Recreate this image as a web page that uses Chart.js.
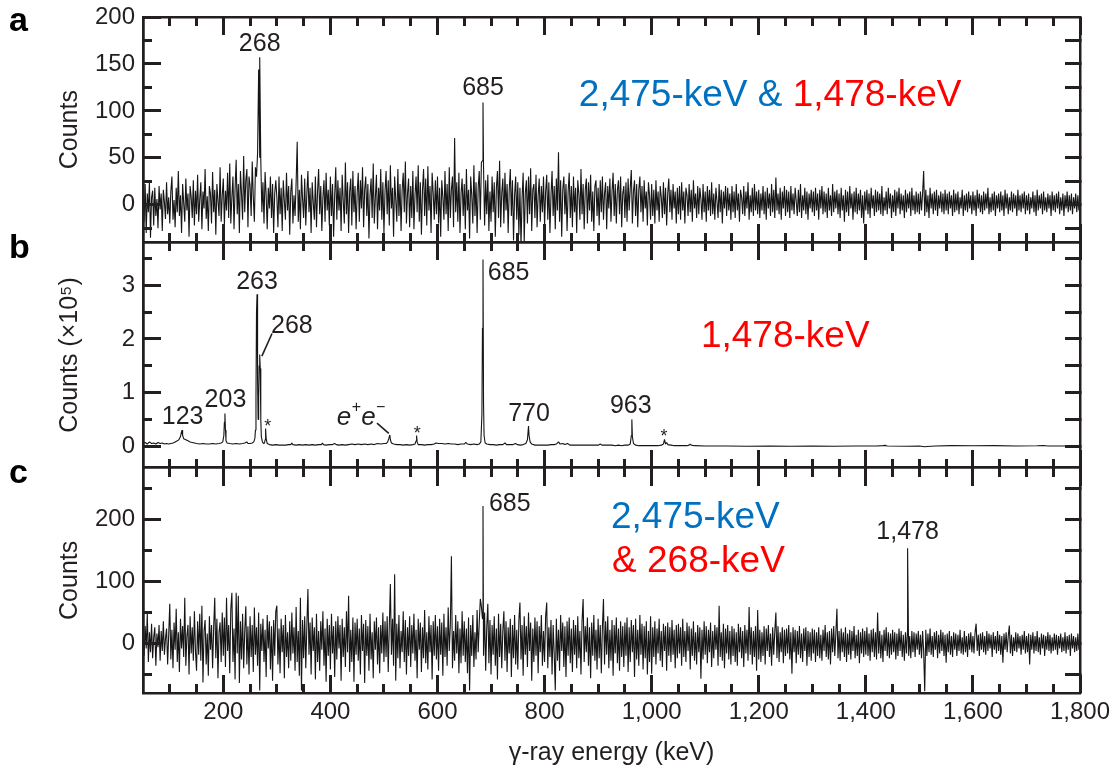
<!DOCTYPE html>
<html>
<head>
<meta charset="utf-8">
<title>γ-ray coincidence spectra</title>
<script src="https://cdn.jsdelivr.net/npm/chart.js"></script>
<style>
  html, body { margin: 0; padding: 0; background: #ffffff; }
  #figure { position: relative; width: 1111px; height: 770px; }
  #figure canvas { position: absolute; left: 0; top: 0; }
</style>
</head>
<body>
<div id="figure">
  <canvas id="panelA" width="1111" height="770"></canvas>
  <canvas id="panelB" width="1111" height="770"></canvas>
  <canvas id="panelC" width="1111" height="770"></canvas>
</div>
<script>
// ---------------------------------------------------------------
// Spectrum data
// ---------------------------------------------------------------

// Channel calibration of the gated spectra: 2 keV per channel from 50 keV
const energyStart = 50;
const binWidth = 2;
const energyMin = 50;
const energyMax = 1800;

// (a) gate on 2,475-keV & 1,478-keV: counts per channel
const countsA = [
  5,-18,22,-30,12,-8,25,-35,8,15,-22,18,-12,6,-25,20,-5,12,-28,16,3,-15,24,-10,8,
  -20,14,30,-16,5,-24,18,-8,36,-12,10,-30,22,2,-18,28,-6,12,-34,20,8,-14,26,-22,15,
  -10,32,-18,6,24,-26,14,-4,38,-15,9,-28,20,12,-20,35,-8,16,-32,22,4,-12,40,-18,10,
  28,-22,15,-6,34,-14,44,-20,8,30,-26,18,48,-10,22,-30,36,12,-16,52,-8,26,38,-24,30,
  20,-12,46,8,-18,40,30,55,144,50,48,-8,24,-20,35,10,-26,18,-4,30,-14,22,-30,12,26,
  8,-24,30,-10,18,-28,26,4,-16,34,-6,20,-32,14,28,-20,10,-12,24,67,-18,16,-26,32,6,
  -14,28,-22,12,36,-8,18,-30,24,2,-16,30,-24,14,38,-10,20,-28,8,26,-18,34,-6,16,-22,
  30,-12,22,-34,10,40,-16,26,-6,18,-28,32,4,-20,45,-10,24,-30,14,28,-22,36,-8,20,-26,
  12,34,-18,26,-4,40,-24,16,30,-12,22,-36,10,28,-14,44,-20,8,32,-26,18,-6,38,-16,24,
  -30,14,36,-10,26,-22,42,-4,18,-34,30,6,-18,38,-12,22,-28,16,34,-8,46,-20,12,28,-24,
  20,-14,36,-26,10,30,-8,42,-18,24,-32,16,38,-12,28,-22,41,-6,20,-30,34,12,-16,26,-10,
  30,-20,18,-34,26,8,-16,36,-10,22,-28,40,-14,16,30,-24,71,-8,24,-18,34,-30,12,28,-12,
  22,-26,38,-6,16,-36,30,10,-20,42,-12,24,-30,18,36,-16,45,47,40,-22,26,-10,32,-28,14,
  -18,30,-8,24,-34,18,36,-14,47,-24,12,28,-20,34,-6,22,-30,16,38,-12,26,-38,10,30,-16,
  24,-32,18,-44,8,34,-40,12,26,-20,30,-10,39,-28,16,22,-14,32,-24,10,28,-18,20,-8,30,
  -22,14,32,-16,24,-30,10,36,-12,20,-26,28,-6,56,-18,26,-34,16,30,-10,22,-28,14,34,-14,
  20,-24,30,-8,18,-30,26,12,-16,38,-10,22,-26,16,28,-20,24,-6,32,-18,14,-28,20,26,-12,
  18,-22,26,-8,30,-16,12,24,-26,20,-4,28,-18,14,34,-12,22,-20,16,26,-10,30,-24,12,20,
  -14,24,-18,28,-6,18,37,-20,14,26,-12,22,-24,16,30,-8,20,-18,26,-4,14,-22,24,10,-16,
  22,-12,16,-20,26,-6,14,-18,20,8,-14,24,-10,18,-22,12,28,-8,16,-16,22,-4,14,-20,18,
  -10,20,-16,24,-6,14,-20,18,10,-12,22,-8,16,-18,26,-4,12,-14,20,-10,18,6,-16,22,-8,
  14,-18,20,-6,16,-12,24,-10,12,-16,18,4,-14,22,-8,16,-20,14,-4,20,-12,18,-6,12,-16,
  20,-8,14,-14,22,-6,12,-18,16,8,-10,20,-12,14,-4,24,-16,10,-8,18,-12,22,-6,14,-10,
  16,-14,12,-6,20,-10,14,-16,18,-4,12,-12,22,-8,16,-14,29,-6,12,-10,18,-16,14,-4,20,
  -12,16,-8,14,-14,20,-6,12,-10,18,4,-12,16,-8,22,-14,10,-6,18,-10,14,-16,12,-4,16,
  -8,14,-12,18,-6,12,-16,16,-4,20,-10,14,-8,12,-14,18,-6,10,-12,22,-8,14,-4,16,-10,
  12,-14,18,-6,10,-18,16,-8,14,-12,20,-4,12,-16,14,-8,18,-10,12,-6,16,-14,10,-20,14,
  -6,16,-10,12,-14,18,-4,10,-12,16,-8,14,-6,12,-10,20,-12,8,-6,14,-10,18,-4,12,-14,
  10,-8,16,-12,14,-4,18,-10,12,-6,10,-14,16,-8,12,-4,14,-12,18,-6,10,-10,14,-8,12,
  -10,14,-6,12,36,-12,16,-8,10,-14,18,-4,12,-10,14,-6,16,-12,10,-4,14,-8,12,-10,16,
  -6,12,-10,14,-4,10,-12,16,-8,12,-6,14,-10,8,-4,16,-12,10,-6,12,-8,14,-4,10,-10,
  14,-6,10,-12,16,-4,12,-8,10,-10,14,-6,12,-4,18,-10,8,-8,12,-6,14,-12,10,-4,12,
  -8,14,-6,10,-12,16,-4,12,-10,8,-6,14,-8,12,-4,10,-12,16,-6,10,-8,12,-4,14,-10,
  10,-6,12,-10,8,-4,14,-8,10,-12,16,-6,10,-4,12,-10,14,-6,8,-8,12,-4,10,-12,14,
  -6,10,-8,12,-4,14,-10,8,-6,12,-12,10,-4,14,-8,10,-6,12,-10,8,-4,12,-8,10,-6,
  4
];
// (a) labelled γ lines
const peakEnergiesA = [268, 685];
const peakCountsA = [157, 109];

// (b) gate on 1,478-keV: counts (×10^5) at the listed energies (keV)
const energiesB = [
  50,54,58,62,66,70,74,78,82,86,
  90,94,98,102,106,110,114,117,120,122,
  123,124,126,130,134,138,142,146,150,156,
  162,168,174,180,186,192,196,199,201,202,
  203,204,205,207,212,218,224,230,236,240,
  244,246,250,254,257,259,260,261,262,263,
  264,265,266,267,268,269,270,271,273,275,
  277,278,279,280,282,286,292,298,304,310,
  316,322,326,328,330,336,342,348,354,360,
  366,372,378,383,385,387,392,398,404,408,
  411,416,422,428,434,440,446,452,458,464,
  470,476,482,488,494,500,504,507,509,511,
  512,514,518,524,530,536,542,548,554,558,
  560,561,562,564,570,576,582,588,594,597,
  602,608,614,620,626,632,638,644,650,653,
  656,662,668,674,678,681,683,684,685,686,
  687,689,692,698,704,710,716,722,726,729,
  735,741,746,749,755,760,765,768,770,771,
  773,776,782,788,794,800,806,812,818,822,
  826,829,834,838,843,847,853,860,866,872,
  878,884,890,896,901,904,907,914,920,926,
  932,938,944,950,956,960,962,963,964,966,
  970,976,982,988,994,1000,1006,1012,1018,1022,
  1024,1026,1028,1030,1036,1042,1048,1054,1060,1066,
  1070,1072,1074,1080,1100,1140,1180,1220,1260,1300,
  1340,1380,1420,1432,1436,1440,1480,1500,1510,1514,
  1530,1560,1600,1640,1680,1720,1732,1740,1770,1800
];
const countsB = [
  0.05,0.07,0.04,0.08,0.05,0.06,0.04,0.07,0.05,0.06,
  0.04,0.05,0.04,0.05,0.06,0.08,0.10,0.12,0.18,0.27,
  0.30,0.20,0.14,0.12,0.10,0.08,0.07,0.06,0.05,0.04,
  0.05,0.04,0.04,0.05,0.04,0.05,0.06,0.08,0.20,0.45,
  0.61,0.30,0.10,0.06,0.05,0.04,0.05,0.04,0.05,0.06,
  0.08,0.05,0.05,0.06,0.08,0.15,0.30,0.90,2.50,2.83,
  1.20,0.50,0.90,1.50,1.71,1.45,0.50,0.18,0.08,0.05,
  0.06,0.12,0.33,0.14,0.05,0.03,0.02,0.03,0.02,0.02,
  0.02,0.03,0.03,0.06,0.03,0.02,0.03,0.02,0.03,0.02,
  0.03,0.02,0.03,0.03,0.06,0.03,0.02,0.03,0.03,0.05,
  0.03,0.02,0.03,0.02,0.03,0.04,0.03,0.04,0.03,0.04,
  0.03,0.04,0.03,0.05,0.04,0.05,0.05,0.08,0.14,0.21,
  0.12,0.06,0.04,0.03,0.03,0.02,0.03,0.02,0.03,0.04,
  0.10,0.20,0.08,0.03,0.03,0.02,0.03,0.03,0.04,0.06,
  0.05,0.05,0.04,0.05,0.04,0.04,0.03,0.04,0.04,0.07,
  0.04,0.03,0.04,0.03,0.04,0.08,0.60,2.20,3.48,0.80,
  0.20,0.06,0.04,0.03,0.03,0.02,0.03,0.03,0.06,0.03,
  0.03,0.03,0.05,0.03,0.02,0.03,0.05,0.12,0.375,0.20,
  0.08,0.04,0.02,0.02,0.02,0.02,0.02,0.03,0.03,0.04,
  0.08,0.04,0.05,0.03,0.05,0.02,0.02,0.02,0.02,0.02,
  0.02,0.02,0.02,0.02,0.02,0.04,0.02,0.02,0.02,0.02,
  0.01,0.02,0.01,0.02,0.02,0.04,0.20,0.50,0.18,0.05,
  0.02,0.01,0.01,0.01,0.01,0.01,0.01,0.01,0.02,0.04,
  0.125,0.04,0.07,0.03,0.02,0.01,0.01,0.01,0.01,0.01,
  0.02,0.04,0.02,0.01,0.005,0.005,0.0,0.005,0.0,0.005,
  0.0,0.005,0.005,0.01,0.015,0.005,0.0,0.005,-0.01,-0.005,
  0.005,0.01,0.008,0.01,0.005,0.008,0.012,0.005,0.005,0.005
];

// (c) gate on 2,475-keV & 268-keV: counts per channel
const countsC = [
  12,-20,28,-8,49,-30,18,-14,32,-24,10,26,-36,16,-6,30,-28,20,-12,36,-18,8,24,-34,14,
  64,-26,22,-40,34,-10,56,-30,18,-46,40,-8,28,-22,74,-36,12,30,-50,44,-16,26,-28,52,-12,
  -44,36,-18,48,-28,61,-63,20,38,-34,16,-52,44,-10,30,-40,26,74,-24,40,-56,18,34,-30,50,
  -20,42,-38,74,-12,30,-48,56,82,-30,24,-58,82,-16,77,-64,36,-26,48,-40,20,60,-34,28,-50,
  44,-22,30,-46,58,-18,26,-36,50,-76,32,-12,40,-30,22,-54,46,-8,36,-42,28,-60,38,-20,52,
  61,-34,24,-48,40,-14,30,-56,46,-22,18,-40,36,-28,50,-16,26,-44,59,-30,20,-52,74,-76,38,
  -24,44,-40,28,88,-18,34,-50,42,-12,26,-58,48,-30,20,-44,36,-10,52,-36,24,-62,40,-20,30,
  -42,48,-16,28,-54,36,-26,44,-8,30,-60,40,-22,26,-38,52,-14,77,-46,22,-30,42,-62,34,-18,
  40,-28,24,-50,46,-12,32,-64,38,-20,28,-44,48,-26,18,-56,36,-10,42,-34,26,-48,30,-16,50,
  -30,36,-22,44,-46,28,96,-18,40,-36,112,-60,32,-24,46,-40,20,-14,52,-30,38,-50,26,-20,44,
  -38,30,-16,48,-28,22,-56,40,-10,34,-46,26,-24,54,-32,18,-42,44,-14,30,-58,36,-20,46,-26,
  28,-44,40,-18,34,-52,48,-22,26,-36,58,-12,30,141,-40,20,-28,46,-16,36,-48,24,-32,52,-20,
  36,-30,24,-48,42,-76,30,-20,46,-38,18,-26,54,-14,34,72,60,40,-20,50,-44,26,64,-32,38,
  -50,30,-18,44,-36,24,-58,48,-22,32,-40,20,52,-28,36,-46,26,-16,40,-54,30,-24,46,-34,22,
  -42,38,66,-26,30,-52,44,-18,28,-38,50,-12,34,-60,24,-30,42,-20,36,-48,28,-14,46,-36,20,
  -30,44,66,-40,26,-22,38,-50,30,-16,-76,40,-28,22,-44,46,-12,34,-38,28,-54,36,-20,42,-32,
  24,-46,38,-18,30,-40,44,-24,20,-50,36,72,-30,28,-14,42,-36,26,-56,34,-20,46,-28,22,-42,
  40,-24,30,-48,26,72,-34,36,-18,44,-40,22,-28,38,-52,30,-16,42,-32,24,-44,36,-22,28,-38,
  34,-20,42,-46,26,-30,38,-14,30,-54,40,-26,22,-36,46,-18,32,-42,28,-24,36,-50,20,-30,44,
  -49,26,-22,36,-34,24,-16,40,-28,20,-38,32,-12,28,-44,34,-20,26,-30,38,-18,22,-40,30,-24,
  32,-16,26,-36,40,-22,20,-30,34,-12,28,-42,24,-20,36,-28,18,-34,30,-14,26,-57,22,-26,36,
  -18,28,-32,22,-14,34,-38,20,-24,30,-10,26,-36,61,-22,18,-28,32,-40,24,-16,30,-26,20,-34,
  28,-20,24,-30,18,-36,32,-14,26,-24,20,-38,30,-16,22,-28,59,-18,26,-34,20,-22,28,-44,54,
  -26,22,-30,18,-20,28,-34,24,-12,30,-22,16,-36,26,-18,20,50,-24,28,-30,18,-14,26,-32,22,
  -20,24,-16,30,-26,18,-49,26,-14,22,-32,20,-18,28,-24,16,-30,24,-12,26,-36,20,-22,18,-28,
  24,-16,22,-30,18,-20,26,-24,14,-28,22,-12,30,-22,18,-26,20,-34,24,-14,28,-20,16,56,-24,
  20,-28,24,-14,18,-22,26,-30,16,-18,22,-26,20,-12,28,-24,14,-20,22,-32,18,-16,24,-22,20,
  -18,26,-20,16,-28,22,-14,24,-22,18,-26,50,-16,20,-24,14,-30,22,-12,26,-20,18,-24,16,-18,
  22,-14,18,-26,16,-20,24,-12,20,-22,14,-28,18,-16,24,-20,12,-24,20,-14,18,-22,16,-10,20,
  -18,14,-24,20,-12,-77,22,-20,16,-14,24,-18,12,-22,18,-10,20,-24,14,-16,22,-12,18,-20,14,
  -31,16,-14,20,-18,12,-22,18,-10,16,-20,14,-12,22,-16,10,-18,20,-14,12,-22,16,-10,18,-14,
  12,-16,18,32,-12,14,-20,16,-10,18,-14,12,-18,20,-12,16,-8,14,-22,18,-10,12,-16,20,-12,
  14,-18,12,-31,16,-10,18,-14,12,29,-16,14,-20,10,-12,18,-14,16,-8,12,-18,14,-10,20,-16,
  12,-14,16,-34,14,-10,18,-16,12,-12,20,-14,10,-18,16,-8,14,-20,12,-10,18,-12,14,-16,10,
  -12,16,-10,14,-18,12,-8,16,-14,10,-12,18,-16,12,-10,14,-20,16,-8,12,-14,10,-12,16,-10,
  6
];
// (c) labelled γ lines
const peakEnergiesC = [685, 1478];
const peakCountsC = [222, 154];

// ---------------------------------------------------------------
// Tick positions and labels
// ---------------------------------------------------------------
const xMajorTicks = [200, 400, 600, 800, 1000, 1200, 1400, 1600, 1800];
const xTickLabels = ['200', '400', '600', '800', '1,000', '1,200', '1,400', '1,600', '1,800'];
const xMinorTicks = [100, 150, 250, 300, 350, 450, 500, 550, 650, 700, 750,
  850, 900, 950, 1050, 1100, 1150, 1250, 1300, 1350, 1450, 1500,
  1550, 1650, 1700, 1750];

const yaMajorTicks = [0, 50, 100, 150, 200];
const yaTickLabels = ['0', '50', '100', '150', '200'];
const yaMinorTicks = [-25, 25, 75, 125, 175];
const yaRightTicks = [-25, 0, 25, 50, 75, 100, 125, 150, 175];

const ybMajorTicks = [0, 1, 2, 3];
const ybTickLabels = ['0', '1', '2', '3'];
const ybMinorTicks = [0.5, 1.5, 2.5, 3.5];
const ybRightTicks = [0, 0.5, 1, 1.5, 2, 2.5, 3, 3.5];

const ycMajorTicks = [0, 100, 200];
const ycTickLabels = ['0', '100', '200'];
const ycMinorTicks = [-50, 50, 150, 250];
const ycRightTicks = [-50, 0, 50, 100, 150, 200, 250];

// ---------------------------------------------------------------
// Styling and layout
// ---------------------------------------------------------------
const FONT = '"Liberation Sans", Arial, Helvetica, sans-serif';
const INK = '#231f20';
const BLUE = '#0070c0';
const RED = '#ff0000';
const FRAME_W = 2.5;
const TICK_W = 3;
const MAJOR_LEN = 18;
const MINOR_LEN = 9;
const CANVAS_H = 770;
const PLOT_TOP = 17;
const PLOT_BOTTOM = 693;
const PANEL_H = (PLOT_BOTTOM - PLOT_TOP) / 3;
const LEFT_W = 143;      // room for y labels and titles
const RIGHT_PAD = 31;
const BOTTOM_H = CANVAS_H - PLOT_BOTTOM;   // room for energy labels and title

Chart.defaults.font.family = FONT;
Chart.defaults.color = INK;

// Spectrum points: channel contents plus the labelled lines
function spectrumWithLines(counts, lineEnergies, lineCounts) {
  const pts = counts.map((c, i) => ({ x: energyStart + i * binWidth, y: c }));
  lineEnergies.forEach((e, k) => pts.push({ x: e, y: lineCounts[k] }));
  return pts.sort((p, q) => p.x - q.x);
}
const spectrumA = spectrumWithLines(countsA, peakEnergiesA, peakCountsA);
const spectrumB = energiesB.map((e, i) => ({ x: e, y: countsB[i] }));
const spectrumC = spectrumWithLines(countsC, peakEnergiesC, peakCountsC);

// ---------------------------------------------------------------
// Annotations (positions in data units of each panel)
// ---------------------------------------------------------------
const lineLabels = {
  a: [
    { text: '268', e: 268, v: 164, align: 'center' },
    { text: '685', e: 685, v: 117, align: 'center' }
  ],
  b: [
    { text: '263', e: 263, v: 2.93, align: 'center' },
    { text: '268', e: 328, v: 2.11, align: 'center' },
    { text: '203', e: 204, v: 0.73, align: 'center' },
    { text: '123', e: 124, v: 0.41, align: 'center' },
    { text: '685', e: 694, v: 3.10, align: 'left' },
    { text: '770', e: 771, v: 0.47, align: 'center' },
    { text: '963', e: 961, v: 0.62, align: 'center' }
  ],
  c: [
    { text: '685', e: 696, v: 214, align: 'left' },
    { text: '1,478', e: 1478, v: 168, align: 'center' }
  ]
};
const leaderLines = {
  a: [],
  b: [ { from: [291, 2.10], to: [272, 1.68] }, { from: [487, 0.43], to: [509, 0.24] } ],
  c: []
};
const starMarks = {
  a: [],
  b: [ { e: 283, v: 0.455 }, { e: 562, v: 0.33 }, { e: 1023, v: 0.27 } ],
  c: []
};
const gateLabels = {
  a: [ { e: 864, v: 105.5, parts: [['2,475-keV & ', BLUE], ['1,478-keV', RED]] } ],
  b: [ { e: 1092, v: 1.85, parts: [['1,478-keV', RED]] } ],
  c: [ { e: 924, v: 187, parts: [['2,475-keV', BLUE]] },
       { e: 926, v: 115, parts: [['& 268-keV', RED]] } ]
};
const panelLetterOffset = { a: 14, b: 16, c: 15 };

function annotations(key) {
  return {
    id: 'annotations',
    afterDraw(chart) {
      const { ctx, scales: s, chartArea: area } = chart;
      const X = e => s.x.getPixelForValue(e);
      const Y = v => s.y.getPixelForValue(v);
      ctx.save();

      // inward energy ticks along the top and bottom edges of the panel
      ctx.fillStyle = INK;
      [[xMajorTicks, MAJOR_LEN], [xMinorTicks, MINOR_LEN]].forEach(([values, len]) => {
        values.forEach(v => {
          const px = Math.round(X(v) - TICK_W / 2);
          ctx.fillRect(px, Math.round(area.top), TICK_W, len);
          ctx.fillRect(px, Math.round(area.bottom) - len, TICK_W, len);
        });
      });

      ctx.textBaseline = 'alphabetic';
      ctx.font = `25px ${FONT}`;
      lineLabels[key].forEach(l => {
        ctx.textAlign = l.align;
        ctx.fillText(l.text, X(l.e), Y(l.v));
      });

      ctx.strokeStyle = INK;
      ctx.lineWidth = 1.6;
      leaderLines[key].forEach(l => {
        ctx.beginPath();
        ctx.moveTo(X(l.from[0]), Y(l.from[1]));
        ctx.lineTo(X(l.to[0]), Y(l.to[1]));
        ctx.stroke();
      });

      ctx.font = `18px ${FONT}`;
      ctx.textAlign = 'center';
      starMarks[key].forEach(m => ctx.fillText('*', X(m.e), Y(m.v) + 10));

      if (key === 'b') {
        // e⁺e⁻ annihilation label
        let ex = X(412);
        const ey = Y(0.39);
        ctx.textAlign = 'left';
        [['e', false], ['+', true], ['e', false], ['\u2212', true]].forEach(([t, sup]) => {
          ctx.font = sup ? `16px ${FONT}` : `italic 26px ${FONT}`;
          ctx.fillText(t, ex, sup ? ey - 13 : ey);
          ex += ctx.measureText(t).width + (sup ? 0 : 0.5);
        });
      }

      ctx.font = `37px ${FONT}`;
      ctx.textAlign = 'left';
      gateLabels[key].forEach(g => {
        let gx = X(g.e);
        const gy = Y(g.v);
        g.parts.forEach(([t, color]) => {
          ctx.fillStyle = color;
          ctx.fillText(t, gx, gy);
          gx += ctx.measureText(t).width;
        });
      });

      ctx.fillStyle = '#000000';
      ctx.font = `bold 34px ${FONT}`;
      ctx.fillText(key, 9, area.top + panelLetterOffset[key]);
      ctx.restore();
    }
  };
}

// ---------------------------------------------------------------
// One chart per panel, stacked on a shared energy axis
// ---------------------------------------------------------------
const fixedTicks = values => scale => { scale.ticks = values.map(v => ({ value: v })); };
const frame = { display: true, width: FRAME_W, color: INK, z: 1 };
const inwardTicks = len => ({ drawOnChartArea: false, drawTicks: true, tickLength: -len,
                              tickWidth: TICK_W, tickColor: INK, z: 1 });

function panelChart(canvasId, key, p) {
  const withEnergyLabels = key === 'c';
  const top = PLOT_TOP + p.index * PANEL_H;
  const bottomPad = withEnergyLabels ? 0 : CANVAS_H - (top + PANEL_H);

  const scales = {
    x: {
      type: 'linear', axis: 'x', position: 'bottom',
      min: energyMin, max: energyMax, bounds: 'data',
      afterBuildTicks: fixedTicks(xMajorTicks),
      afterFit: s => { s.height = withEnergyLabels ? BOTTOM_H : 0; s.paddingLeft = 0; s.paddingRight = 0; },
      grid: { display: false, drawTicks: false },
      border: frame,
      ticks: { display: withEnergyLabels, autoSkip: false, maxRotation: 0, padding: 5,
               color: INK, font: { size: 24 }, callback: (v, i) => xTickLabels[i] },
      title: { display: withEnergyLabels, text: 'γ-ray energy (keV)', color: INK,
               font: { size: 25 }, padding: { top: 0, bottom: 2 } }
    },
    xTop: {
      type: 'linear', axis: 'x', position: 'top',
      min: energyMin, max: energyMax, bounds: 'data',
      afterFit: s => { s.height = 0; },
      grid: { display: false, drawTicks: false },
      border: frame,
      ticks: { display: false }
    },
    y: {
      type: 'linear', axis: 'y', position: 'left', weight: 1,
      min: p.min, max: p.max, bounds: 'data',
      afterBuildTicks: fixedTicks(p.major),
      afterFit: s => { s.width = LEFT_W; s.paddingTop = 0; s.paddingBottom = 0; },
      grid: inwardTicks(MAJOR_LEN),
      border: frame,
      ticks: { autoSkip: false, padding: 26, color: INK, font: { size: 24 },
               callback: (v, i) => p.labels[i] },
      title: { display: true, text: p.title, color: INK, font: { size: 25 },
               padding: { top: 55, bottom: 0 } }
    },
    yMinor: {
      type: 'linear', axis: 'y', position: 'left', weight: 0,
      min: p.min, max: p.max, bounds: 'data',
      afterBuildTicks: fixedTicks(p.minor),
      afterFit: s => { s.width = 0; },
      grid: inwardTicks(MINOR_LEN), border: frame, ticks: { display: false }
    },
    yRight: {
      type: 'linear', axis: 'y', position: 'right',
      min: p.min, max: p.max, bounds: 'data',
      afterBuildTicks: fixedTicks(p.right),
      afterFit: s => { s.width = 0; },
      grid: inwardTicks(15), border: frame, ticks: { display: false }
    }
  };

  return new Chart(document.getElementById(canvasId), {
    type: 'line',
    data: {
      datasets: [{
        label: p.label, data: p.data, xAxisID: 'x', yAxisID: 'y',
        borderColor: '#151515', borderWidth: 1.1, pointRadius: 0, tension: 0,
        fill: false, borderJoinStyle: 'bevel'
      }]
    },
    options: {
      responsive: false,
      animation: false,
      devicePixelRatio: 1,
      events: [],
      layout: { padding: { left: 0, right: RIGHT_PAD, top: top, bottom: bottomPad } },
      plugins: { legend: { display: false }, tooltip: { enabled: false } },
      scales
    },
    plugins: [annotations(key)]
  });
}

panelChart('panelA', 'a', { index: 0, min: -40, max: 200, major: yaMajorTicks, labels: yaTickLabels,
  minor: yaMinorTicks, right: yaRightTicks, title: 'Counts',
  label: '2,475-keV & 1,478-keV gate', data: spectrumA });
panelChart('panelB', 'b', { index: 1, min: -0.4, max: 3.8, major: ybMajorTicks, labels: ybTickLabels,
  minor: ybMinorTicks, right: ybRightTicks, title: 'Counts (×10⁵)',
  label: '1,478-keV gate', data: spectrumB });
panelChart('panelC', 'c', { index: 2, min: -80, max: 284, major: ycMajorTicks, labels: ycTickLabels,
  minor: ycMinorTicks, right: ycRightTicks, title: 'Counts',
  label: '2,475-keV & 268-keV gate', data: spectrumC });
</script>
</body>
</html>
